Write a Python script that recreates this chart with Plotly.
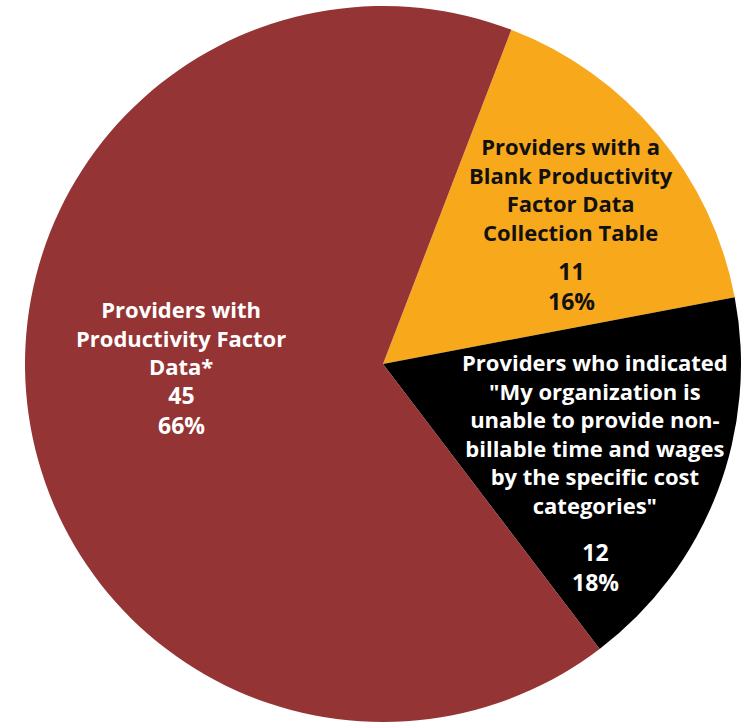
import plotly.graph_objects as go

# Provider response breakdown
categories = [
    "Providers with a<br>Blank Productivity<br>Factor Data<br>Collection Table",
    "Providers who indicated<br>\"My organization is<br>unable to provide non-<br>billable time and wages<br>by the specific cost<br>categories\"",
    "Providers with<br>Productivity Factor<br>Data*",
]
counts = [11, 12, 45]
slice_colors = ["#F8A81B", "#000000", "#953434"]
text_colors = ["#111111", "#FFFFFF", "#FFFFFF"]

W, H = 746, 723
total = sum(counts)

fig = go.Figure(
    go.Pie(
        labels=categories,
        values=counts,
        sort=False,
        direction="clockwise",
        rotation=21,
        marker=dict(colors=slice_colors, line=dict(width=0)),
        textinfo="none",
        hoverinfo="label+value+percent",
        showlegend=False,
        domain=dict(x=[25 / W, 741 / W], y=[1 - 722 / H, 1 - 6 / H]),
    )
)

# label placement in pixels: x centre, name block centre, value block centre
label_px = [(571, 189, 286), (595, 433, 567), (181, 337, 410)]
for cat, n, col, (px, py_name, py_val) in zip(categories, counts, text_colors, label_px):
    pct = round(100 * n / total)
    fig.add_annotation(
        x=px / W, y=1 - py_name / H, xref="paper", yref="paper",
        xanchor="center", yanchor="middle",
        text=f"<b>{cat}</b>",
        showarrow=False, align="center",
        font=dict(family="Open Sans", size=22, color=col),
    )
    fig.add_annotation(
        x=px / W, y=1 - py_val / H, xref="paper", yref="paper",
        xanchor="center", yanchor="middle",
        text=f"<b>{n}<br>{pct}%</b>",
        showarrow=False, align="center",
        font=dict(family="Open Sans", size=23, color=col),
    )

fig.update_layout(
    width=W, height=H,
    margin=dict(l=0, r=0, t=0, b=0),
    paper_bgcolor="white", plot_bgcolor="white",
)

fig.write_html("out.html")
